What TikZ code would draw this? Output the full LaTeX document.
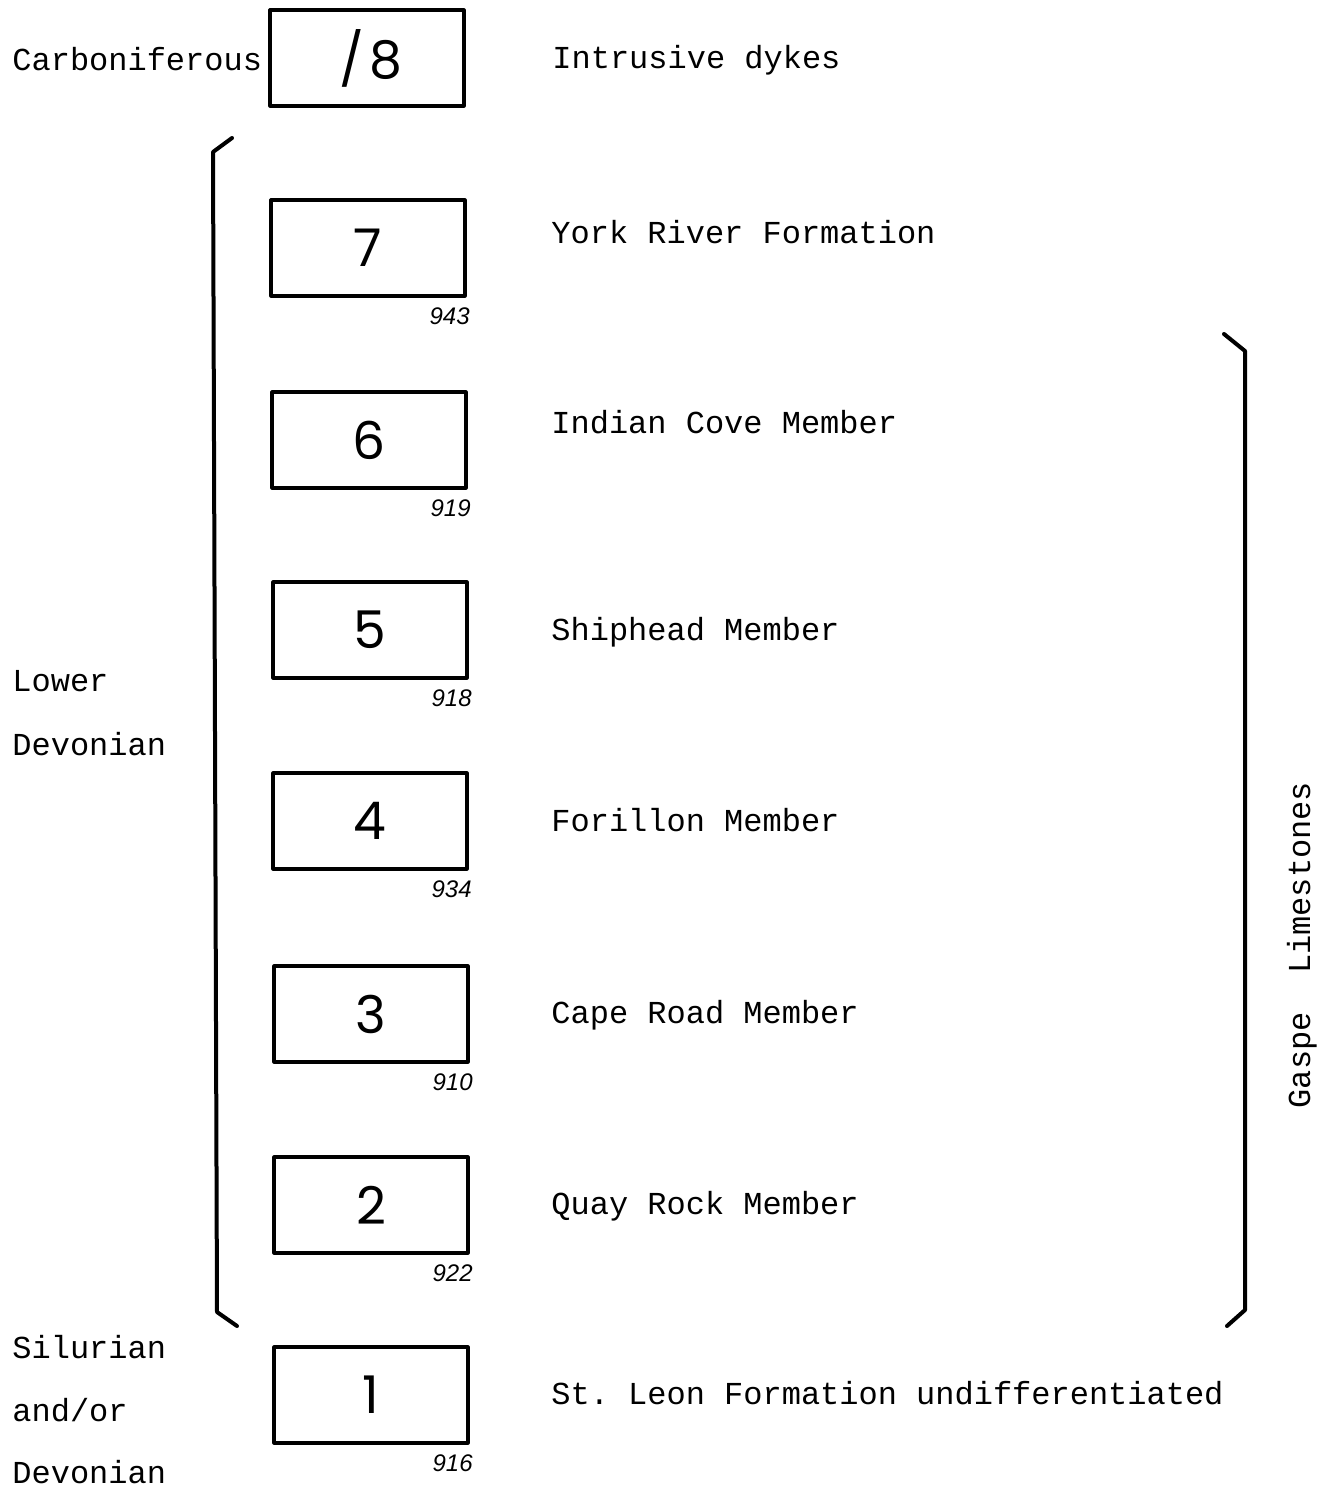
\documentclass[tikz,border=0pt]{standalone}
\usepackage{fontspec}
\setmonofont{Liberation Mono}
\newfontfamily\digitfont{Poppins}
\newfontfamily\notefont{Liberation Sans}
\usetikzlibrary{positioning}

\begin{document}
\begin{tikzpicture}[x=0.5pt, y=-0.5pt, line cap=round, line join=round,
    unitbox/.style={draw, line width=1.6pt, minimum width=97pt, minimum height=48pt,
      inner sep=0pt, font=\digitfont\fontsize{26}{26}\selectfont},
    typed/.style={anchor=base west, inner sep=0pt, font=\ttfamily\fontsize{16}{16}\selectfont},
    sheet/.style={inner sep=0pt, font=\notefont\itshape\fontsize{12}{12}\selectfont},
    brace/.style={line width=2pt}]
    \useasboundingbox (0,0) rectangle (1319,1489);
    % Carbonifero
    \node[unitbox] (u8) at (367,58) {\hspace{4pt}/\hspace{3pt}8};
    \node[typed] (t8) at (552,68) {Intrusive dykes};
    \node[typed] (age8) at (12,70) {Carboniferous};
    % Unita' 7 -- 1
    \foreach \n/\xb/\yb/\yt/\foglio/\nome in {
        7/368/248/243/943/York River Formation,
        6/369/440/433/919/Indian Cove Member,
        5/370/630/640/918/Shiphead Member,
        4/370/821/831/934/Forillon Member,
        3/371/1014/1023/910/Cape Road Member,
        2/371/1205/1214/922/Quay Rock Member,
        1/371/1395/1404/916/St.\ Leon Formation undifferentiated}{
      \node[unitbox] (u\n) at (\xb,\yb) {\n};
      \node[sheet] (f\n) at ([shift={(-17,19)}]u\n.south east) {\foglio};
      \node[typed] (t\n) at (551,\yt) {\nome};
    }
    % Eta'
    \node[typed] (lower) at (12,691) {Lower};
    \node[typed] (devA) at (12,755) {Devonian};
    \node[typed] (sil) at (12,1358) {Silurian};
    \node[typed] (andor) at (12,1421) {and/or};
    \node[typed] (devB) at (12,1483) {Devonian};
    % Parentesi
    \draw[brace] (232,138) -- (213,152) -- (217,1312) -- (237,1326);
    \draw[brace] (1224,334) -- (1245,351) -- (1245,1310) -- (1227,1326);
    \node[typed, anchor=base, rotate=90] (gaspe) at (1310,945) {Gaspe\ \ Limestones};
\end{tikzpicture}
\end{document}
